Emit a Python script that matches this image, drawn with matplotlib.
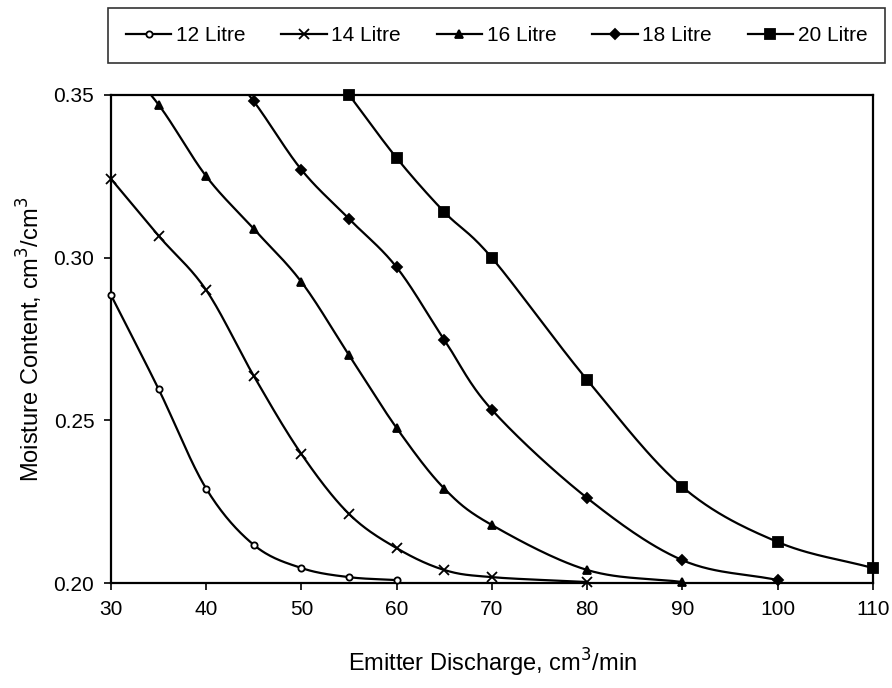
import numpy as np
import matplotlib
matplotlib.use('Agg')
import matplotlib.pyplot as plt
from matplotlib.lines import Line2D

plt.rcParams['font.family'] = ['Liberation Sans', 'DejaVu Sans']

# Datos
x12 = [30, 35, 40, 45, 50, 55, 60]
y12 = [0.2885, 0.2596, 0.229, 0.2117, 0.2046, 0.2018, 0.2009]

x14 = [30, 35, 40, 45, 50, 55, 60, 65, 70, 80]
y14 = [0.3242, 0.3067, 0.290, 0.2636, 0.2396, 0.2212, 0.2107, 0.2040, 0.2018, 0.2003]

x16 = [30, 35, 40, 45, 50, 55, 60, 65, 70, 80, 90]
y16 = [0.364, 0.347, 0.325, 0.3088, 0.2925, 0.270, 0.2476, 0.229, 0.2178, 0.2040, 0.2003]

x18 = [40, 45, 50, 55, 60, 65, 70, 80, 90, 100]
y18 = [0.366, 0.348, 0.327, 0.3119, 0.297, 0.2747, 0.2532, 0.2261, 0.207, 0.2009]

x20 = [55, 60, 65, 70, 80, 90, 100, 110]
y20 = [0.3500, 0.3306, 0.314, 0.2999, 0.2624, 0.2295, 0.2126, 0.2046]

labels = ['12 Litre', '14 Litre', '16 Litre', '18 Litre', '20 Litre']
series = [(x12, y12), (x14, y14), (x16, y16), (x18, y18), (x20, y20)]
markers = ['o', 'x', '^', 'D', 's']
msizes = [4.5, 7, 6, 5, 7]
mfaces = ['white', 'black', 'black', 'black', 'black']


def suavizar(x, y, n=30):
    # curva suave tipo Catmull-Rom (como "linea suavizada" de Excel)
    x = np.asarray(x, float)
    y = np.asarray(y, float)
    px = np.concatenate([[2 * x[0] - x[1]], x, [2 * x[-1] - x[-2]]])
    py = np.concatenate([[2 * y[0] - y[1]], y, [2 * y[-1] - y[-2]]])
    xs, ys = [], []
    t = np.linspace(0, 1, n)
    for i in range(1, len(px) - 2):
        for p, out in ((px, xs), (py, ys)):
            p0, p1, p2, p3 = p[i - 1], p[i], p[i + 1], p[i + 2]
            out.extend(0.5 * ((2 * p1) + (-p0 + p2) * t
                              + (2 * p0 - 5 * p1 + 4 * p2 - p3) * t ** 2
                              + (-p0 + 3 * p1 - 3 * p2 + p3) * t ** 3))
    return np.array(xs), np.array(ys)


fig = plt.figure(figsize=(8.92, 6.88), dpi=100)
ax = fig.add_axes([0.1244, 0.1526, 0.8543, 0.7094])

handles = []
for (x, y), lab, m, ms, mf in zip(series, labels, markers, msizes, mfaces):
    sx, sy = suavizar(x, y)
    ax.plot(sx, sy, color='black', lw=1.6)
    xa = np.array(x)
    ya = np.array(y)
    dentro = ya <= 0.3501
    ax.plot(xa[dentro], ya[dentro], linestyle='none', marker=m, ms=ms,
            mfc=mf, mec='black', mew=1.3, clip_on=False, zorder=3)
    handles.append(Line2D([], [], color='black', lw=1.6, marker=m, ms=ms,
                          mfc=mf, mec='black', mew=1.3, label=lab))

ax.set_xlim(30, 110)
ax.set_ylim(0.20, 0.35)
ax.set_xticks(range(30, 111, 10))
ax.set_yticks([0.20, 0.25, 0.30, 0.35])
ax.set_yticklabels(['0.20', '0.25', '0.30', '0.35'])
ax.tick_params(direction='out', length=5, width=1.2, labelsize=15, pad=7)
for s in ax.spines.values():
    s.set_linewidth(1.6)

ax.set_xlabel('Emitter Discharge, cm$^3$/min', fontsize=17, labelpad=20)
ax.set_ylabel('Moisture Content, cm$^3$/cm$^3$', fontsize=17, labelpad=6)

leg = fig.legend(handles=handles, loc='upper left', ncol=5, mode='expand',
                 bbox_to_anchor=(0.121, 0.988, 0.871, 0.0),
                 fontsize=15, frameon=True, fancybox=False, edgecolor='black',
                 handlelength=2.2, handletextpad=0.2, borderaxespad=0,
                 borderpad=0.85)
leg.get_frame().set_linewidth(1.2)

fig.savefig('out.png', dpi=100)
